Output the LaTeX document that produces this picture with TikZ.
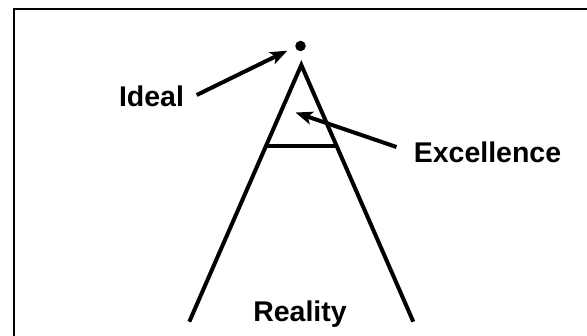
\documentclass[tikz,border=0pt]{standalone}
\usepackage{fontspec}
\setmainfont{Liberation Sans}
\usetikzlibrary{arrows.meta}
\begin{document}
\begin{tikzpicture}[x=1pt,y=-1pt,
  lbl/.style={font=\bfseries\fontsize{28.5}{30}\selectfont, inner sep=0pt, anchor=base},
  leg/.style={line width=4pt, line join=miter},
  pointer/.style={line width=4pt, -{Stealth[length=17pt,width=13pt,inset=4pt]}}]
  \useasboundingbox (0,0) rectangle (587,336);
  \begin{scope}
    \clip (0,0) rectangle (587,336);
    \draw[line width=2pt] (14,340) -- (14,9) -- (590,9);
  \end{scope}
  % ideal point
  \node[circle, fill=black, inner sep=0pt, minimum size=10.5pt] (dot) at (300.5,46) {};
  % the A
  \coordinate (apex) at (301.3,65);
  \coordinate (lfoot) at (189.3,321.7);
  \coordinate (rfoot) at (413.3,321.7);
  \draw[leg] (lfoot) -- (apex) -- (rfoot);
  \coordinate (barL) at (266,146);
  \coordinate (barR) at (336.6,146);
  \draw[leg] (barL) -- (barR);
  % labels
  \node[lbl] (ideal) at (151.5,106.7) {Ideal};
  \node[lbl] (exc) at (487.5,162.7) {Excellence};
  \node[lbl] (real) at (300,321.7) {Reality};
  % arrows
  \coordinate (idealStart) at (196.7,95);
  \coordinate (idealTip) at (287.3,50.7);
  \coordinate (excStart) at (396.5,147);
  \coordinate (excTip) at (295.5,112.5);
  \draw[pointer] (idealStart) -- (idealTip);
  \draw[pointer] (excStart) -- (excTip);
\end{tikzpicture}
\end{document}
